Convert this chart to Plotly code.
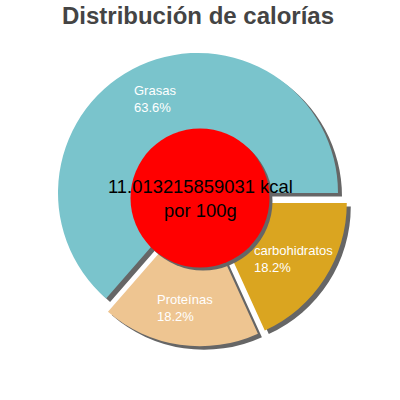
import math
import plotly.graph_objects as go

labels = ["Grasas", "Proteínas", "carbohidratos"]
values = [63.6, 18.2, 18.2]
colors = ["#7AC4CC", "#EEC591", "#DAA520"]
center_text = "11.013215859031 kcal<br>por 100g"
title_text = "Distribución de calorías"

W = H = 400
FONT = "Liberation Sans, Arial, sans-serif"


def px(x):
    return x / W


def py(y):
    return 1 - y / H


# pie centre / size in page pixels
PCX, PCY = 200.9, 199.3
R = 140
pull = 0.05
half = R * (1 + pull)
SDX, SDY = 4, 3.5
total = sum(values)
start_deg = 0.0  # first slice starts at 3 o'clock and runs counter-clockwise
rotation = (90 - start_deg) - 360 * values[0] / total
if rotation < 0:
    rotation += 360


def dom(dx=0, dy=0):
    return dict(x=[px(PCX - half + dx), px(PCX + half + dx)],
                y=[py(PCY + half + dy), py(PCY - half + dy)])


fig = go.Figure()
fig.add_trace(go.Pie(
    labels=labels, values=values, sort=False, direction="counterclockwise",
    rotation=rotation, pull=[pull] * 3, hole=0.4,
    marker=dict(colors=["#666666"] * 3, line=dict(width=0)),
    textinfo="none", hoverinfo="skip", showlegend=False,
    domain=dom(SDX, SDY),
))
fig.add_trace(go.Pie(
    labels=labels, values=values, sort=False, direction="counterclockwise",
    rotation=rotation, pull=[pull] * 3, hole=0.4,
    marker=dict(colors=colors, line=dict(width=0)),
    textinfo="none", showlegend=False,
    domain=dom(),
))

# slice labels, centred on each slice's bisector
LABEL_R = 110
acc = 0.0
for lab, val in zip(labels, values):
    mid = math.radians(start_deg + 360 * (acc + val / 2) / total)
    acc += val
    lx = PCX + LABEL_R * math.cos(mid)
    ly = PCY - LABEL_R * math.sin(mid)
    fig.add_annotation(text=f"{lab}<br>{val:.1f}%", xref="paper", yref="paper",
                       x=px(lx), y=py(ly), xanchor="center", yanchor="middle", align="left",
                       showarrow=False, font=dict(family=FONT, size=13, color="white"))

RC = 69.5
CCX, CCY = 200, 198
fig.add_shape(type="circle", xref="paper", yref="paper",
              x0=px(CCX - RC + 3), x1=px(CCX + RC + 3), y0=py(CCY + RC + 3), y1=py(CCY - RC + 3),
              fillcolor="#666666", line=dict(width=0), layer="above")
fig.add_shape(type="circle", xref="paper", yref="paper",
              x0=px(CCX - RC), x1=px(CCX + RC), y0=py(CCY + RC), y1=py(CCY - RC),
              fillcolor="#FF0000", line=dict(width=0), layer="above")
fig.add_annotation(text=center_text, xref="paper", yref="paper", x=px(200), y=py(198),
                   showarrow=False, font=dict(family=FONT, size=18.4, color="black"))

fig.update_layout(
    width=W, height=H, margin=dict(l=0, r=0, t=0, b=0),
    paper_bgcolor="white", plot_bgcolor="white",
    title=dict(text="<b>" + title_text + "</b>", x=px(198), xanchor="center", y=py(16), yanchor="middle",
               font=dict(family=FONT, size=24, color="#444444")),
)
fig.write_html("out.html", config={"displayModeBar": False},
               post_script="document.body.style.margin='0px';")
